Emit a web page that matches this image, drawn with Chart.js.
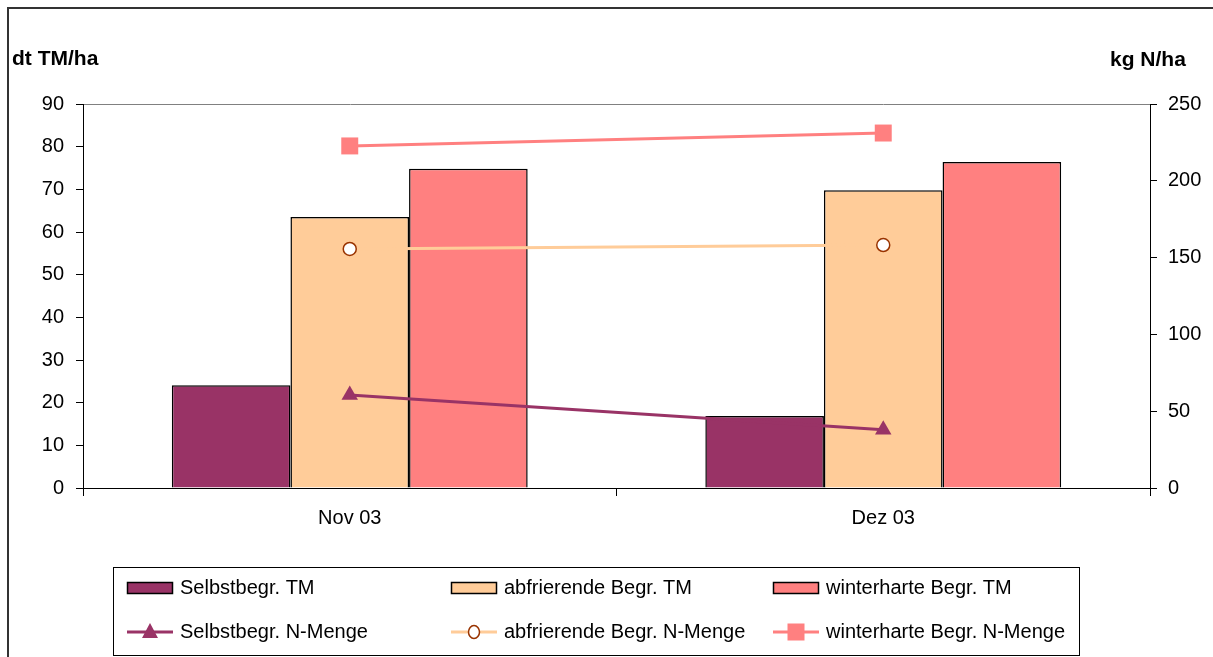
<!DOCTYPE html>
<html>
<head>
<meta charset="utf-8">
<title>Begrünung TM und N-Menge</title>
<script src="https://cdn.jsdelivr.net/npm/chart.js@4.4.1/dist/chart.umd.min.js"></script>
<style>
  html, body { margin: 0; padding: 0; background: #fff; }
  #box { width: 1213px; height: 657px; }
</style>
</head>
<body>
<div id="box"><canvas id="myChart" width="1213" height="657"></canvas></div>
<script>
// Monate
var monate = ['Nov 03', 'Dez 03'];

// Trockenmasse dt TM/ha (linke Achse)
var selbstTM = [24.1, 16.9];
var abfrierendTM = [63.5, 69.8];
var winterhartTM = [74.8, 76.4];

// N-Menge kg N/ha (rechte Achse)
var selbstN = [60.5, 38];
var abfrierendN = [155.6, 158.2];
var winterhartN = [222.7, 231.1];

var tmTicks = [0, 90, 10];
var nTicks = [0, 250, 50];

var schrift = 'Arial, "Liberation Sans", sans-serif';

// Achsentitel, Rahmen und Legende selbst zeichnen
var extras = {
  id: 'extras',
  afterDraw: function(chart) {
    var ctx = chart.ctx;
    ctx.save();

    // Rahmen oben und links
    ctx.strokeStyle = '#333';
    ctx.lineWidth = 2;
    ctx.beginPath();
    ctx.moveTo(8, 657);
    ctx.lineTo(8, 8);
    ctx.lineTo(1213, 8);
    ctx.stroke();

    // Achsentitel
    ctx.fillStyle = '#000';
    ctx.font = 'bold 21px ' + schrift;
    ctx.textBaseline = 'middle';
    ctx.textAlign = 'left';
    ctx.fillText('dt TM/ha', 12, 59);
    ctx.fillText('kg N/ha', 1110, 60);

    // Legende
    ctx.lineWidth = 1;
    ctx.strokeStyle = '#000';
    ctx.strokeRect(113.5, 567.5, 966, 88);

    var spalten = [127, 451, 773];
    var zeilen = [588, 632];
    ctx.font = '20px ' + schrift;
    chart.data.datasets.forEach(function(ds, i) {
      var x = spalten[i % 3];
      var y = zeilen[Math.floor(i / 3)];
      if (ds.type === 'line') {
        ctx.strokeStyle = ds.borderColor;
        ctx.lineWidth = 3;
        ctx.beginPath();
        ctx.moveTo(x, y);
        ctx.lineTo(x + 46, y);
        ctx.stroke();
        var mx = x + 23;
        ctx.fillStyle = ds.pointBackgroundColor;
        ctx.strokeStyle = ds.pointBorderColor;
        ctx.lineWidth = ds.pointBorderWidth;
        if (ds.pointStyle === 'triangle') {
          ctx.beginPath();
          ctx.moveTo(mx, y - 9);
          ctx.lineTo(mx + 8, y + 6);
          ctx.lineTo(mx - 8, y + 6);
          ctx.closePath();
          ctx.fill();
        } else if (ds.pointStyle === 'circle') {
          ctx.beginPath();
          ctx.ellipse(mx, y, 5.5, 6.5, 0, 0, Math.PI * 2);
          ctx.fill();
          ctx.stroke();
        } else {
          ctx.fillRect(mx - 8.5, y - 8.5, 17, 17);
        }
      } else {
        ctx.fillStyle = ds.backgroundColor;
        ctx.fillRect(x, y - 6, 46, 12);
        ctx.strokeStyle = '#000';
        ctx.lineWidth = 1.5;
        ctx.strokeRect(x + 0.5, y - 5.5, 45, 11);
      }
      ctx.fillStyle = '#000';
      ctx.textAlign = 'left';
      ctx.textBaseline = 'middle';
      ctx.fillText(ds.label, x + 53, y);
    });

    ctx.restore();
  }
};

function balken(label, werte, farbe) {
  return {
    type: 'bar',
    label: label,
    data: werte,
    backgroundColor: farbe,
    borderColor: '#000',
    borderWidth: 1.5,
    yAxisID: 'y',
    order: 2
  };
}

function linie(label, werte, farbe, stil, radius, fuellung, rand) {
  return {
    type: 'line',
    label: label,
    data: werte,
    borderColor: farbe,
    borderWidth: 3,
    pointStyle: stil,
    pointRadius: radius,
    pointBackgroundColor: fuellung,
    pointBorderColor: rand,
    pointBorderWidth: stil === 'circle' ? 1.5 : 0,
    yAxisID: 'y1',
    order: 1
  };
}

function getChart() {
  var ctx = document.getElementById('myChart').getContext('2d');
  var myChart = new Chart(ctx, {
    type: 'bar',
    data: {
      labels: monate,
      datasets: [
        balken('Selbstbegr. TM', selbstTM, '#993366'),
        balken('abfrierende Begr. TM', abfrierendTM, '#FFCC99'),
        balken('winterharte Begr. TM', winterhartTM, '#FF8080'),
        linie('Selbstbegr. N-Menge', selbstN, '#993366', 'triangle', 9.5, '#993366', '#993366'),
        linie('abfrierende Begr. N-Menge', abfrierendN, '#FFCC99', 'circle', 6.5, '#FFFFFF', '#993300'),
        linie('winterharte Begr. N-Menge', winterhartN, '#FF8080', 'rect', 12, '#FF8080', '#FF8080')
      ]
    },
    options: {
      responsive: false,
      animation: false,
      layout: { padding: { left: 8, right: 0, top: 104, bottom: 129 } },
      datasets: {
        bar: { categoryPercentage: 0.667, barPercentage: 1.0 }
      },
      plugins: {
        legend: { display: false },
        tooltip: { enabled: false }
      },
      scales: {
        x: {
          grid: { offset: true, drawOnChartArea: false, tickLength: 8, color: '#000' },
          border: { color: '#000', width: 1 },
          ticks: { color: '#000', font: { family: schrift, size: 20 }, padding: 10 },
          afterFit: function(s) { s.height = 40; }
        },
        y: {
          position: 'left',
          min: tmTicks[0],
          max: tmTicks[1],
          ticks: { stepSize: tmTicks[2], color: '#000', font: { family: schrift, size: 20 }, padding: 12 },
          grid: {
            color: function(c) { return c.tick && c.tick.value === tmTicks[1] ? '#808080' : 'rgba(0,0,0,0)'; },
            tickColor: '#000',
            tickLength: 7
          },
          border: { color: '#000', width: 1 },
          afterFit: function(s) { s.width = 75; }
        },
        y1: {
          position: 'right',
          min: nTicks[0],
          max: nTicks[1],
          ticks: { stepSize: nTicks[2], color: '#000', font: { family: schrift, size: 20 }, padding: 11 },
          grid: { drawOnChartArea: false, tickColor: '#000', tickLength: 7 },
          border: { color: '#000', width: 1 },
          afterFit: function(s) { s.width = 63; }
        }
      }
    },
    plugins: [extras]
  });
}

getChart();
</script>
</body>
</html>
